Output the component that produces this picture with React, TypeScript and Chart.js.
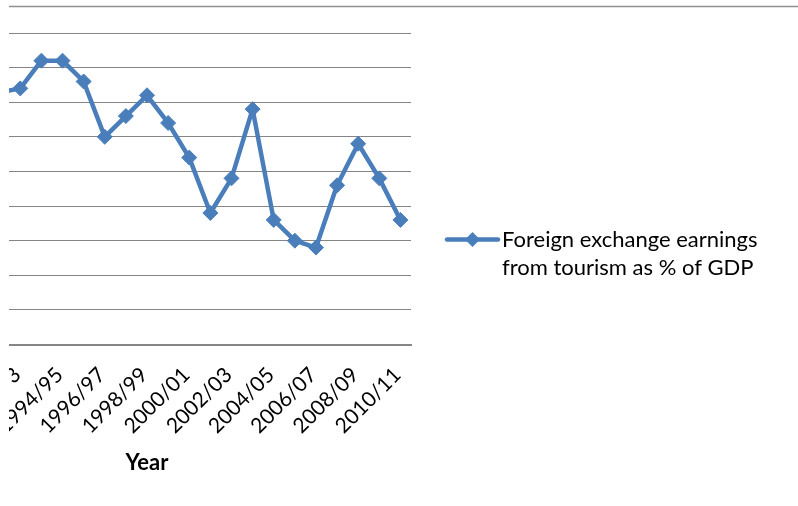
import React, { useEffect, useRef } from 'react';
import { Chart, registerables } from 'chart.js';

Chart.register(...registerables);

// ---- data ----
const categories: string[] = [
  '1986/87', '1987/88', '1988/89', '1989/90', '1990/91',
  '1991/92', '1992/93', '1993/94', '1994/95', '1995/96',
  '1996/97', '1997/98', '1998/99', '1999/00', '2000/01',
  '2001/02', '2002/03', '2003/04', '2004/05', '2005/06',
  '2006/07', '2007/08', '2008/09', '2009/10', '2010/11',
];
const earningsPctGdp: (number | null)[] = [
  null, null, null, null, null,
  3.64, 3.7, 4.1, 4.1, 3.8,
  3.0, 3.3, 3.6, 3.2, 2.7,
  1.9, 2.4, 3.4, 1.8, 1.5,
  1.4, 2.3, 2.9, 2.4, 1.8,
];
const seriesLabel: string[] = ['Foreign exchange earnings', 'from tourism as % of GDP'];
const xAxisTitle = 'Year';
const yMin = 0;
const yMax = 4.5;
const yStep = 0.5;

// ---- styling / layout ----
const SHIFT = 250; // canvas is shifted left so the chart appears cropped like the reference
const CANVAS_W = 798 + SHIFT;
const CANVAS_H = 506;
const BLUE = '#4A7EBB';
const FONT = 'Lato, "Open Sans", sans-serif';

const extrasPlugin = {
  id: 'extras',
  afterDraw(chart: any) {
    const ctx: CanvasRenderingContext2D = chart.ctx;
    ctx.save();
    // top border line
    ctx.strokeStyle = '#8f8f8f';
    ctx.lineWidth = 1.5;
    ctx.beginPath();
    ctx.moveTo(0, 6.5);
    ctx.lineTo(CANVAS_W, 6.5);
    ctx.stroke();

    // legend
    const lx0 = 447 + SHIFT;
    const lx1 = 498 + SHIFT;
    const ly = 239.5;
    ctx.strokeStyle = BLUE;
    ctx.lineWidth = 4.5;
    ctx.lineCap = 'round';
    ctx.beginPath();
    ctx.moveTo(lx0, ly);
    ctx.lineTo(lx1, ly);
    ctx.stroke();
    const cx = (lx0 + lx1) / 2;
    const r = 7.5;
    ctx.fillStyle = BLUE;
    ctx.beginPath();
    ctx.moveTo(cx, ly - r);
    ctx.lineTo(cx + r, ly);
    ctx.lineTo(cx, ly + r);
    ctx.lineTo(cx - r, ly);
    ctx.closePath();
    ctx.fill();

    ctx.fillStyle = '#000';
    ctx.font = `22px ${FONT}`;
    ctx.textAlign = 'left';
    ctx.textBaseline = 'alphabetic';
    seriesLabel.forEach((t, i) => {
      ctx.fillText(t, 502 + SHIFT, 247 + i * 28);
    });
    ctx.restore();
  },
};

export default function App() {
  const ref = useRef<HTMLCanvasElement>(null);

  useEffect(() => {
    if (!ref.current) return;
    const chart = new Chart(ref.current, {
      type: 'line',
      data: {
        labels: categories,
        datasets: [
          {
            label: seriesLabel.join(' '),
            data: earningsPctGdp,
            borderColor: BLUE,
            backgroundColor: BLUE,
            borderWidth: 4.5,
            borderJoinStyle: 'round',
            borderCapStyle: 'round',
            tension: 0,
            pointStyle: 'rectRot',
            pointRadius: 7.5,
            pointBorderWidth: 1,
            pointBackgroundColor: BLUE,
            pointBorderColor: BLUE,
          },
        ],
      },
      options: {
        animation: false,
        responsive: false,
        layout: { padding: { left: 133, right: 387, top: 33, bottom: 0 } },
        plugins: {
          legend: { display: false },
          tooltip: { enabled: false },
        },
        scales: {
          x: {
            offset: true,
            grid: { display: false, drawTicks: false },
            border: { display: true, color: '#868686', width: 2 },
            ticks: {
              autoSkip: false,
              minRotation: 45,
              maxRotation: 45,
              padding: 18,
              labelOffset: -3,
              color: '#000',
              font: { family: FONT, size: 21 },
              callback: (_v: any, i: number) => (i % 2 === 0 ? categories[i] : ''),
            },
            title: {
              display: true,
              text: xAxisTitle,
              color: '#000',
              font: { family: FONT, size: 22, weight: 'bold' },
              padding: { top: 0, bottom: 30 },
            },
            afterFit: (s: any) => {
              s.height = 161.5;
            },
          },
          y: {
            min: yMin,
            max: yMax,
            ticks: { display: false, stepSize: yStep },
            grid: { color: '#858585', lineWidth: 1, drawTicks: false },
            border: { display: false },
            afterFit: (s: any) => {
              s.width = 0;
            },
          },
        },
      } as any,
      plugins: [extrasPlugin],
    });
    return () => chart.destroy();
  }, []);

  return (
    <div
      style={{
        position: 'fixed',
        left: 0,
        top: 0,
        width: 798,
        height: 506,
        overflow: 'hidden',
        background: '#fff',
      }}
    >
      <div
        style={{
          position: 'absolute',
          left: 9,
          top: 0,
          width: 789,
          height: 506,
          overflow: 'hidden',
        }}
      >
        <div style={{ position: 'absolute', left: -9 - SHIFT, top: 0, width: CANVAS_W, height: CANVAS_H }}>
          <canvas ref={ref} width={CANVAS_W} height={CANVAS_H} style={{ width: CANVAS_W, height: CANVAS_H, display: 'block' }} />
        </div>
      </div>
    </div>
  );
}
